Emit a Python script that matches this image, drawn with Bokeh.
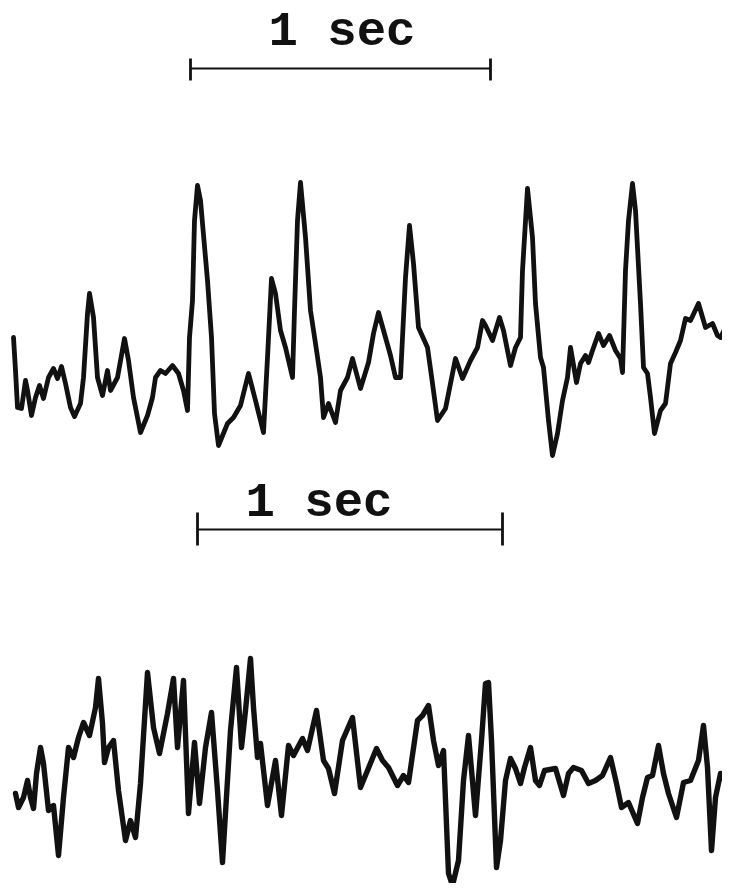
from bokeh.plotting import figure
from bokeh.models import Range1d
from bokeh.core.properties import value
from bokeh.embed import file_html
from bokeh.resources import INLINE

FS = 300.0

# Upper EEG trace: sample index and amplitude (arbitrary units, up = positive)
top_sample = [13, 15, 17, 21, 25, 27, 31, 35, 39, 43,
              48, 53, 57, 61, 65, 70, 74, 80, 83, 87,
              89, 93, 97, 102, 107, 110, 117, 124, 128, 133,
              140, 147, 152, 155, 160, 165, 172, 178, 183, 187,
              189, 192, 194, 197, 200, 207, 211, 214, 218, 227,
              233, 240, 248, 255, 263, 267, 271, 275, 280, 285,
              292, 294, 297, 300, 305, 310, 315, 320, 323, 328,
              335, 340, 347, 352, 360, 368, 373, 378, 385, 390,
              395, 400, 405, 409, 413, 418, 427, 432, 437, 445,
              450, 455, 462, 470, 477, 482, 485, 492, 499, 503,
              510, 515, 520, 522, 527, 532, 535, 540, 543, 548,
              552, 557, 562, 567, 570, 576, 580, 585, 588, 592,
              598, 603, 609, 615, 620, 622, 625, 628, 632, 635,
              640, 643, 647, 650, 654, 660, 665, 670, 675, 680,
              685, 690, 698, 705, 712, 717, 720, 725]
top_amp = [33, 0, -37, -38, -10, -20, -45, -27, -15, -28,
           -7, 2, -8, 4, -13, -37, -46, -33, -7, 57,
           77, 53, -7, -25, 0, -20, -7, 32, 10, -27,
           -62, -45, -27, -7, 0, -3, 5, -3, -20, -40,
           33, 70, 150, 185, 170, 90, 33, -43, -75, -53,
           -47, -35, -3, -30, -62, 13, 92, 77, 40, 23,
           -7, 60, 150, 188, 133, 60, 27, -7, -47, -33,
           -52, -20, -7, 12, -18, 8, 37, 58, 33, 15,
           -7, -7, 93, 145, 107, 43, 23, -13, -50, -38,
           -13, 12, -8, 10, 23, 50, 45, 30, 53, 40,
           5, 23, 33, 100, 182, 133, 67, 13, 3, -50,
           -85, -63, -30, -7, 23, -12, 7, 15, 8, 20,
           37, 25, 35, 20, 12, -2, 100, 150, 187, 160,
           67, 3, -3, -27, -63, -40, -33, 7, 18, 30,
           52, 50, 67, 43, 47, 35, 33, 43]

# Lower EEG trace
bottom_sample = [15, 18, 23, 27, 30, 33, 36, 40, 43, 48,
                 53, 58, 63, 68, 73, 78, 83, 89, 95, 98,
                 102, 104, 108, 113, 118, 125, 130, 135, 140, 147,
                 153, 159, 167, 173, 177, 183, 188, 194, 199, 205,
                 211, 217, 222, 230, 236, 241, 245, 250, 253, 257,
                 260, 267, 275, 281, 288, 293, 302, 307, 316, 323,
                 328, 334, 342, 352, 360, 367, 376, 382, 388, 397,
                 403, 408, 417, 422, 428, 433, 438, 443, 448, 452,
                 458, 463, 468, 475, 481, 485, 488, 491, 496, 500,
                 505, 510, 515, 520, 524, 530, 535, 539, 544, 555,
                 563, 568, 573, 581, 588, 595, 602, 610, 616, 621,
                 628, 637, 642, 647, 652, 658, 663, 668, 676, 683,
                 690, 698, 703, 707, 711, 715, 720, 724, 730]
bottom_amp = [-3, -17, -7, 10, -7, -18, 17, 43, 27, -20,
              -15, -65, -7, 43, 33, 53, 68, 55, 83, 112,
              67, 28, 43, 50, 0, -50, -30, -47, 7, 118,
              63, 37, 77, 112, 43, 110, -23, 48, -13, 43,
              78, 0, -72, 60, 123, 43, 80, 132, 83, 33,
              47, -15, 30, -25, 45, 35, 52, 40, 80, 30,
              22, -3, 50, 73, 3, 20, 42, 30, 23, 5,
              15, 8, 70, 75, 85, 50, 25, 40, -83, -95,
              -70, 10, 55, -25, 50, 107, 108, 50, -77, -50,
              10, 32, 22, 7, 23, 43, 10, 5, 20, 22,
              -5, 17, 23, 20, 7, 10, 15, 33, 7, -17,
              -12, -33, -7, 13, 15, 45, 17, -3, -27, 8,
              10, 30, 65, 23, -60, -7, 17, 10, 13]

# Time calibration bars: label and [start, end] in seconds
bar_label = "1 sec"
top_bar_s = [190 / FS, 490 / FS]
bottom_bar_s = [197 / FS, 502 / FS]

# ---- layout / style ----
W, H = 722, 883
TOP_OFFSET = 521
BOTTOM_OFFSET = 101
INK = "#111111"
FONT = value("Liberation Mono")

p = figure(width=W, height=H, output_backend="svg", toolbar_location=None,
           x_range=Range1d(0, W / FS), y_range=Range1d(891 - H, 891),
           min_border=0, outline_line_color=None,
           background_fill_color="white", border_fill_color="white")
p.axis.visible = False
p.grid.visible = False

top_t = [s / FS for s in top_sample]
bottom_t = [s / FS for s in bottom_sample]

p.line(top_t, [a + TOP_OFFSET for a in top_amp], line_color=INK,
       line_width=4.8, line_join="round", line_cap="round")
p.line(bottom_t, [a + BOTTOM_OFFSET for a in bottom_amp], line_color=INK,
       line_width=5.4, line_join="round", line_cap="round")

# calibration bars with their labels
for (x0, x1), bar_y, t_lo, t_hi, label_x, label_y in [
        (top_bar_s, 823, 811, 833, 341.5 / FS, 860),
        (bottom_bar_s, 362, 346, 379, 318.5 / FS, 389)]:
    p.segment(x0=[x0], y0=[bar_y], x1=[x1], y1=[bar_y],
              line_color=INK, line_width=2.2)
    p.segment(x0=[x0, x1], y0=[t_lo, t_lo], x1=[x0, x1], y1=[t_hi, t_hi],
              line_color=INK, line_width=2.8)
    p.text(x=[label_x], y=[label_y], text=[bar_label],
           text_align="center", text_baseline="alphabetic",
           text_font=FONT, text_font_style="bold",
           text_font_size="49px", text_color=INK)

open("out.html", "w").write(file_html(p, INLINE))
